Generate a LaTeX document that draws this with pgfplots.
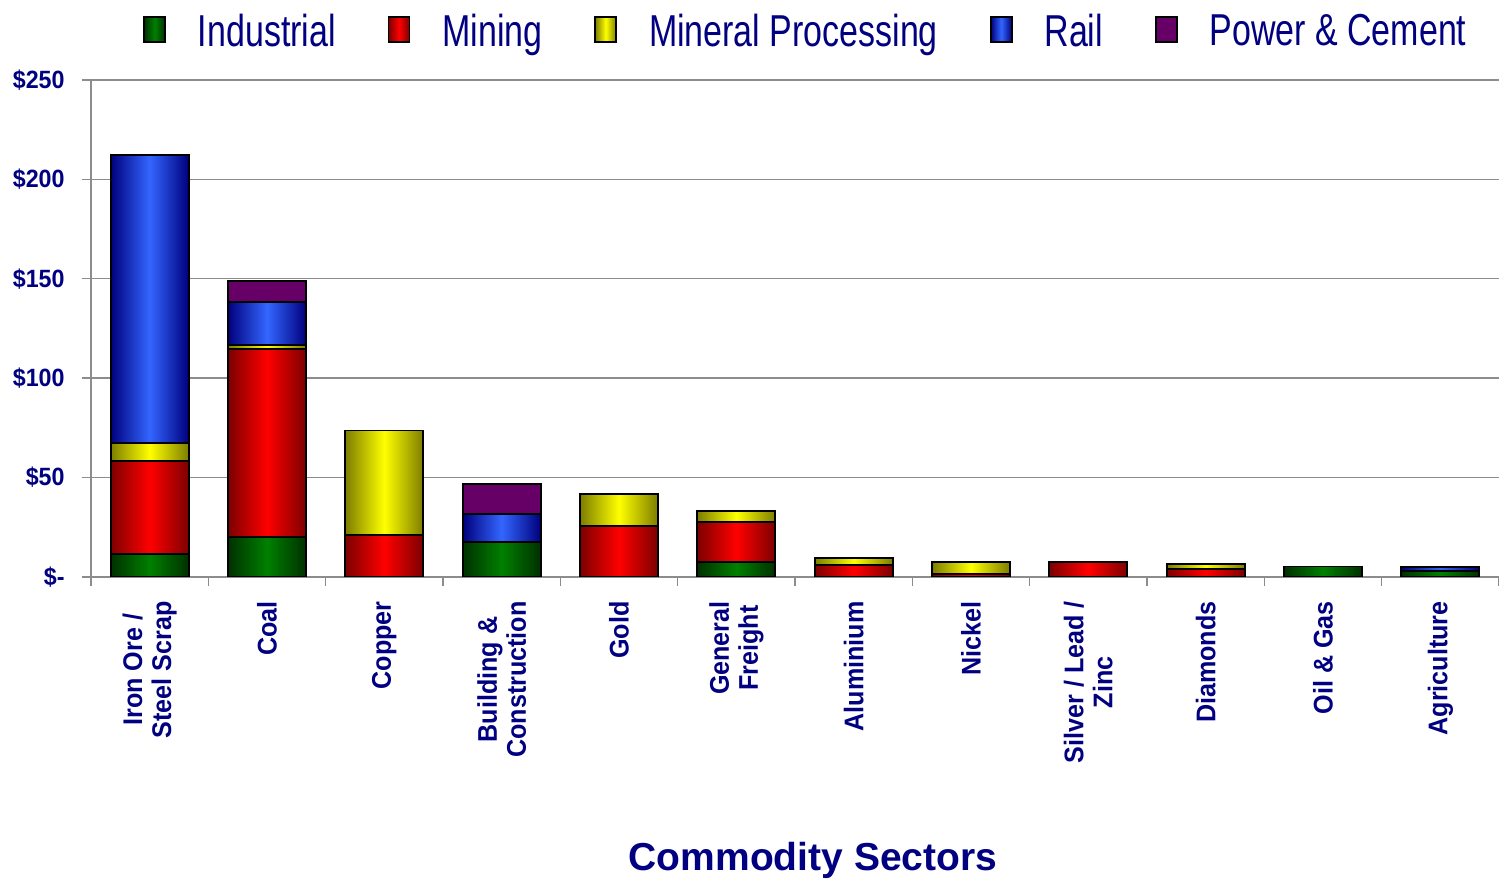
\documentclass[border=0pt]{standalone}
\usepackage{fontspec}
\setmainfont{Liberation Sans}
\newfontfamily\legendfont[FakeStretch=0.76]{Liberation Sans}
\newfontfamily\tickfont[FakeStretch=0.93]{Liberation Sans}
\usepackage{pgfplots}
\usepackage{pgfplotstable}
\pgfplotsset{compat=1.18}
\definecolor{navy}{RGB}{0,0,128}
\definecolor{axisgray}{RGB}{140,140,140}
\definecolor{gC}{RGB}{0,128,0}\definecolor{gE}{RGB}{0,48,0}
\definecolor{rC}{RGB}{255,0,0}\definecolor{rE}{RGB}{125,0,0}
\definecolor{yC}{RGB}{255,255,0}\definecolor{yE}{RGB}{125,125,0}
\definecolor{bC}{RGB}{51,102,255}\definecolor{bE}{RGB}{0,0,125}
\definecolor{pC}{RGB}{102,0,102}
\pgfplotsset{
  mylegend/.style={legend image code/.code={\draw[##1, draw=black, line width=0.8pt] (0pt,-5pt) rectangle (10.5pt,7.5pt);}},
  barstyle/.style 2 args={draw=black, line width=0.9pt, left color=#2, right color=#2, middle color=#1, mylegend},
  onebar/.style={ybar, bar width=0.665, bar shift=0pt, forget plot,
     restrict x to domain=#1:#1, restrict y to domain=0.01:1000},
}
% cumulative top of each segment, per category
\pgfplotstableread{
x ind  min   mp    rail  pc
0 11.4 58.5  67.3  212.3 212.3
1 20.1 114.7 116.7 138.3 148.9
2 0    21.0  73.7  73.7  73.7
3 17.8 17.8  17.8  31.5  46.9
4 0    25.7  41.8  41.8  41.8
5 7.5  27.7  33.2  33.2  33.2
6 0    6.0   9.7   9.7   9.7
7 0    1.7   7.5   7.5   7.5
8 0    7.5   7.5   7.5   7.5
9 0    4.0   6.4   6.4   6.4
10 5.3 5.3   5.3   5.3   5.3
11 2.9 2.9   2.9   5.2   5.2
}\datatable
\begin{document}
\begin{tikzpicture}
\useasboundingbox (-45.5pt,-155pt) rectangle (704pt,288.5pt);
\begin{axis}[
  at={(0,0)}, anchor=south west,
  width=704pt, height=248.5pt, scale only axis,
  xmin=-0.5, xmax=11.5, ymin=0, ymax=250,
  ytick={0,50,...,250},
  yticklabels={\$-\hspace{12.5pt},\$50,\$100,\$150,\$200,\$250},
  ymajorgrids, grid style={draw=axisgray, line width=0.7pt},
  axis x line*=bottom, axis y line*=left,
  axis line style={-, draw=axisgray, line width=0.8pt},
  tick align=outside, major tick length=4.5pt,
  tick style={draw=axisgray, line width=0.7pt},
  xtick={-0.5,0.5,...,11.5}, xticklabels={},
  extra x ticks={0,1,...,11},
  extra x tick labels={{Iron Ore /\\Steel Scrap},Coal,Copper,{Building \&\\Construction},Gold,{General\\Freight},Aluminium,Nickel,{Silver / Lead /\\Zinc},Diamonds,{Oil \& Gas},Agriculture},
  extra x tick style={major tick length=0pt, grid=none, xticklabel shift=12pt,
    tick label style={rotate=90, anchor=east, align=center, inner sep=0pt,
      font=\tickfont\bfseries\fontsize{13.5}{14.5}\selectfont, text=navy}},
  yticklabel style={inner sep=0pt, anchor=east, font=\tickfont\bfseries\fontsize{12.5}{14}\selectfont, text=navy},
  yticklabel shift=8.5pt,
  xlabel={Commodity Sectors},
  xlabel style={at={(0.5128,0)}, anchor=base, yshift=-146.5pt, font=\bfseries\fontsize{19.5}{22}\selectfont, text=navy},
  legend columns=5,
  legend style={at={(0.507,1.097)}, anchor=center, draw=none, fill=none,
    font=\legendfont\fontsize{22.35}{26}\selectfont, text=navy,
    /tikz/every odd column/.append style={column sep=16pt},
    /tikz/every even column/.append style={column sep=26pt},
    nodes={inner sep=0pt}},
]
\addlegendimage{barstyle={gC}{gE}}
\addlegendentry{Industrial}
\addlegendimage{barstyle={rC}{rE}}
\addlegendentry{Mining}
\addlegendimage{barstyle={yC}{yE}}
\addlegendentry{Mineral Processing}
\addlegendimage{barstyle={bC}{bE}}
\addlegendentry{Rail}
\addlegendimage{draw=black, line width=0.9pt, fill=pC, mylegend}
\addlegendentry{Power \& Cement}
% tallest segment first; each lower segment is painted over it
\pgfplotsinvokeforeach{0,...,11}{
  \addplot[onebar=#1, draw=black, line width=0.9pt, fill=pC] table[x=x,y=pc]{\datatable};
}
\pgfplotsinvokeforeach{0,...,11}{
  \addplot[onebar=#1, barstyle={bC}{bE}] table[x=x,y=rail]{\datatable};
}
\pgfplotsinvokeforeach{0,...,11}{
  \addplot[onebar=#1, barstyle={yC}{yE}] table[x=x,y=mp]{\datatable};
}
\pgfplotsinvokeforeach{0,...,11}{
  \addplot[onebar=#1, barstyle={rC}{rE}] table[x=x,y=min]{\datatable};
}
\pgfplotsinvokeforeach{0,...,11}{
  \addplot[onebar=#1, barstyle={gC}{gE}] table[x=x,y=ind]{\datatable};
}
\end{axis}
\end{tikzpicture}
\end{document}
